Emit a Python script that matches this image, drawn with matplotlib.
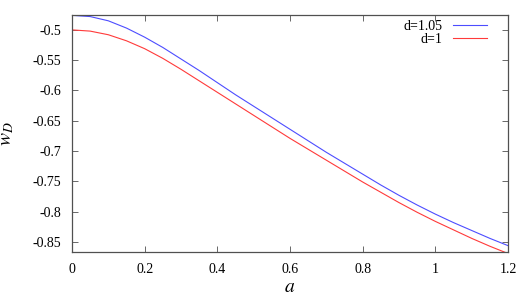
import matplotlib
matplotlib.use('Agg')
import matplotlib.pyplot as plt

plt.rcParams['font.family'] = ['Liberation Serif', 'DejaVu Serif']
plt.rcParams['mathtext.fontset'] = 'stix'

a = [0.00, 0.05, 0.10, 0.15, 0.20, 0.25, 0.30, 0.35, 0.40, 0.45, 0.50, 0.55,
     0.60, 0.65, 0.70, 0.75, 0.80, 0.85, 0.90, 0.95, 1.00, 1.05, 1.10, 1.15, 1.20]

w_d105 = [-0.476, -0.478, -0.485, -0.497, -0.512, -0.529, -0.548, -0.567, -0.587,
          -0.607, -0.626, -0.645, -0.664, -0.683, -0.702, -0.720, -0.738, -0.756,
          -0.773, -0.789, -0.804, -0.818, -0.831, -0.844, -0.856]

w_d1 = [-0.500, -0.502, -0.508, -0.518, -0.531, -0.547, -0.565, -0.584, -0.603,
        -0.622, -0.641, -0.660, -0.679, -0.697, -0.715, -0.733, -0.751, -0.768,
        -0.785, -0.801, -0.816, -0.830, -0.844, -0.857, -0.869]

xticks = [0, 0.2, 0.4, 0.6, 0.8, 1, 1.2]
xtick_labels = ['0', '0.2', '0.4', '0.6', '0.8', '1', '1.2']
yticks = [-0.5, -0.55, -0.6, -0.65, -0.7, -0.75, -0.8, -0.85]
ytick_labels = ['-0.5', '-0.55', '-0.6', '-0.65', '-0.7', '-0.75', '-0.8', '-0.85']

fig = plt.figure(figsize=(5.32, 2.95), dpi=100)
ax = fig.add_axes([0.1353, 0.1458, 0.8196, 0.8032])

ax.plot(a, w_d105, color='#4d4dff', lw=0.8, label='d=1.05')
ax.plot(a, w_d1, color='#ff3a3a', lw=0.8, label='d=1')

ax.set_xlim(0, 1.2)
ax.set_ylim(-0.8665, -0.4755)
ax.set_xticks(xticks)
ax.set_xticklabels(xtick_labels)
ax.set_yticks(yticks)
ax.set_yticklabels(ytick_labels)

ax.tick_params(direction='in', length=4, width=0.6, color='#505050',
               top=True, right=True, labelsize=10, pad=8)
for s in ax.spines.values():
    s.set_color('#505050')
    s.set_linewidth(0.9)

ax.set_xlabel('$a$', fontsize=14, labelpad=2)
ax.set_ylabel('$w_D$', fontsize=14, labelpad=12)

ax.legend(loc='upper right', frameon=False, markerfirst=False, fontsize=10,
          handlelength=2.45, handletextpad=0.75, labelspacing=0.0,
          borderpad=0.35, borderaxespad=0.0, bbox_to_anchor=(0.962, 1.0))

fig.savefig('out.png', dpi=100)
